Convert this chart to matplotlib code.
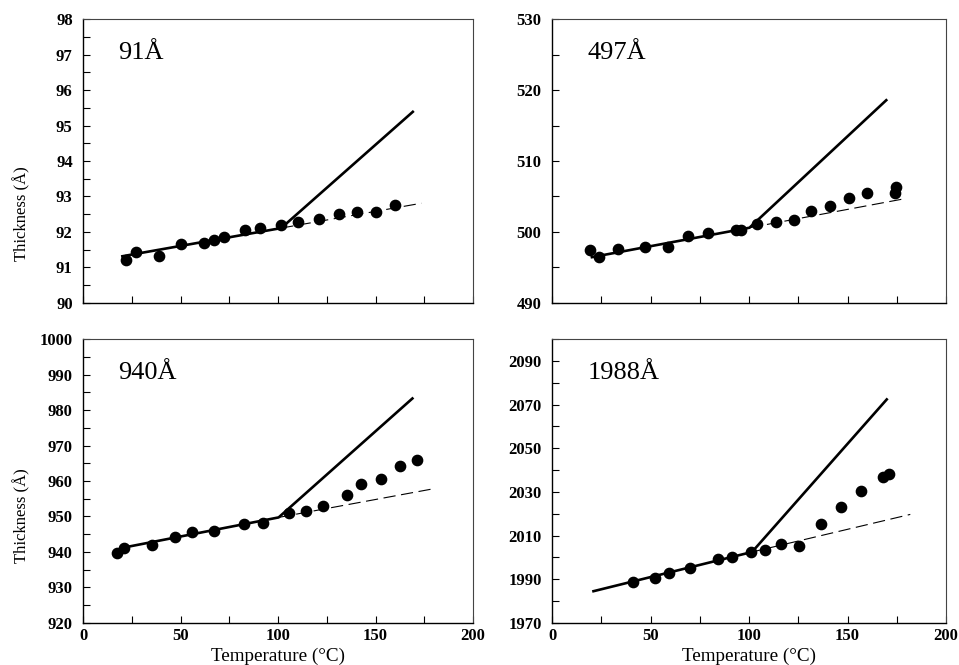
import matplotlib
matplotlib.use('Agg')
import matplotlib.pyplot as plt
from matplotlib.ticker import MultipleLocator, NullFormatter

plt.rcParams['font.family'] = ['Liberation Serif', 'DejaVu Serif']
plt.rcParams['font.weight'] = 'bold'
plt.rcParams['axes.labelweight'] = 'normal'
plt.rcParams['xtick.labelsize'] = 12
plt.rcParams['ytick.labelsize'] = 12

# film 91 A
T_91 = [22.0, 27.1, 39.1, 50.2, 61.8, 67.4, 72.4, 82.8, 90.8, 101.5, 110.1, 121.2, 131.2, 140.3, 150.2, 160.2]
D_91 = [91.22, 91.43, 91.33, 91.66, 91.69, 91.77, 91.86, 92.06, 92.11, 92.20, 92.29, 92.36, 92.50, 92.56, 92.57, 92.75]
SOLID_T_91 = [19.5, 101.6, 169.6]
SOLID_D_91 = [91.31, 92.11, 95.41]
DASH_T_91 = [101.6, 173.5]
DASH_D_91 = [92.11, 92.81]

# film 497 A
T_497 = [19.3, 23.8, 33.6, 47.0, 58.8, 69.0, 79.1, 93.5, 96.0, 104.0, 113.6, 122.8, 131.6, 141.0, 150.8, 159.6, 173.8, 174.7]
D_497 = [497.41, 496.42, 497.59, 497.88, 497.92, 499.42, 499.89, 500.22, 500.27, 501.11, 501.35, 501.67,
         502.99, 503.60, 504.77, 505.47, 505.56, 506.31]
SOLID_T_497 = [19.6, 100.2, 170.1]
SOLID_D_497 = [496.42, 500.6, 518.69]
DASH_T_497 = [100.2, 179.4]
DASH_D_497 = [500.6, 504.71]

# film 940 A
T_940 = [17.2, 21.0, 35.5, 47.0, 55.7, 67.0, 82.7, 92.3, 105.4, 114.3, 123.1, 135.4, 142.6, 153.0, 162.6, 171.0]
D_940 = [939.70, 941.11, 941.86, 944.11, 945.61, 945.80, 947.95, 948.14, 950.96, 951.43, 952.83, 955.93,
         959.02, 960.62, 964.09, 965.97]
SOLID_T_940 = [19.5, 100.3, 169.4]
SOLID_D_940 = [941.1, 949.74, 983.5]
DASH_T_940 = [100.3, 178.6]
DASH_D_940 = [949.74, 957.7]

# film 1988 A
T_1988 = [41.0, 52.2, 59.6, 69.9, 84.3, 91.2, 100.8, 108.1, 116.0, 125.5, 136.5, 146.8, 156.9, 167.9, 170.8]
D_1988 = [1988.7, 1990.5, 1992.8, 1995.1, 1999.2, 2000.4, 2002.4, 2003.6, 2006.0, 2005.4, 2015.4, 2023.2,
          2030.3, 2036.6, 2038.3]
SOLID_T_1988 = [20.4, 101.5, 170.3]
SOLID_D_1988 = [1984.4, 2002.5, 2072.8]
DASH_T_1988 = [101.5, 181.8]
DASH_D_1988 = [2002.5, 2019.7]

LABELS = ['91Å', '497Å', '940Å', '1988Å']
YLIMS = [(90, 98), (490, 530), (920, 1000), (1970, 2100)]
YMAJOR = [1, 10, 10, 20]
YMINOR = [0.5, 5, 5, 10]

fig = plt.figure(figsize=(9.59, 6.65), dpi=100)
positions = [
    [0.0866, 0.5444, 0.4067, 0.427],
    [0.5756, 0.5444, 0.4110, 0.427],
    [0.0866, 0.0632, 0.4067, 0.427],
    [0.5756, 0.0632, 0.4110, 0.427],
]
series = [
    (T_91, D_91, SOLID_T_91, SOLID_D_91, DASH_T_91, DASH_D_91),
    (T_497, D_497, SOLID_T_497, SOLID_D_497, DASH_T_497, DASH_D_497),
    (T_940, D_940, SOLID_T_940, SOLID_D_940, DASH_T_940, DASH_D_940),
    (T_1988, D_1988, SOLID_T_1988, SOLID_D_1988, DASH_T_1988, DASH_D_1988),
]
# where the y label sits (the original places it below centre)
YLABEL_Y = [0.313, None, 0.377, None]

for i, (pos, s) in enumerate(zip(positions, series)):
    ax = fig.add_axes(pos)
    t, d, st, sd, dt, dd = s
    ax.plot(dt, dd, color='black', lw=0.8, dashes=(11, 5))
    ax.plot(st, sd, color='black', lw=1.9, solid_capstyle='butt')
    ax.plot(t, d, 'o', color='black', ms=7.4)

    ax.set_xlim(0, 200)
    ax.set_ylim(YLIMS[i])
    if i == 3:
        ax.set_yticks(range(1970, 2091, 20))
    else:
        ax.yaxis.set_major_locator(MultipleLocator(YMAJOR[i]))
    ax.yaxis.set_minor_locator(MultipleLocator(YMINOR[i]))
    ax.xaxis.set_major_locator(MultipleLocator(50))
    ax.xaxis.set_minor_locator(MultipleLocator(25))
    ax.tick_params(which='both', direction='in', length=5, width=0.8, top=False, right=False)
    ax.tick_params(axis='y', pad=7.5)
    ax.tick_params(axis='x', pad=3.5)
    if i < 2:
        ax.xaxis.set_major_formatter(NullFormatter())
    else:
        ax.set_xlabel('Temperature (°C)', fontsize=13.8, fontweight='normal')
        ax.xaxis.label.set_va('baseline')
        ax.xaxis.set_label_coords(0.5, -0.135)
    if i % 2 == 0:
        ax.set_ylabel('Thickness (Å)', fontsize=12, fontweight='normal')
        ax.yaxis.set_label_coords(-0.135, YLABEL_Y[i])
    for side in ['left', 'bottom']:
        ax.spines[side].set_linewidth(1.0)
    for side in ['top', 'right']:
        ax.spines[side].set_linewidth(0.8)
        ax.spines[side].set_color('#444444')
    ax.text(0.09, 0.86, LABELS[i], transform=ax.transAxes, fontsize=19,
            fontweight='normal', va='baseline', ha='left')

fig.savefig('out.png', dpi=100)
